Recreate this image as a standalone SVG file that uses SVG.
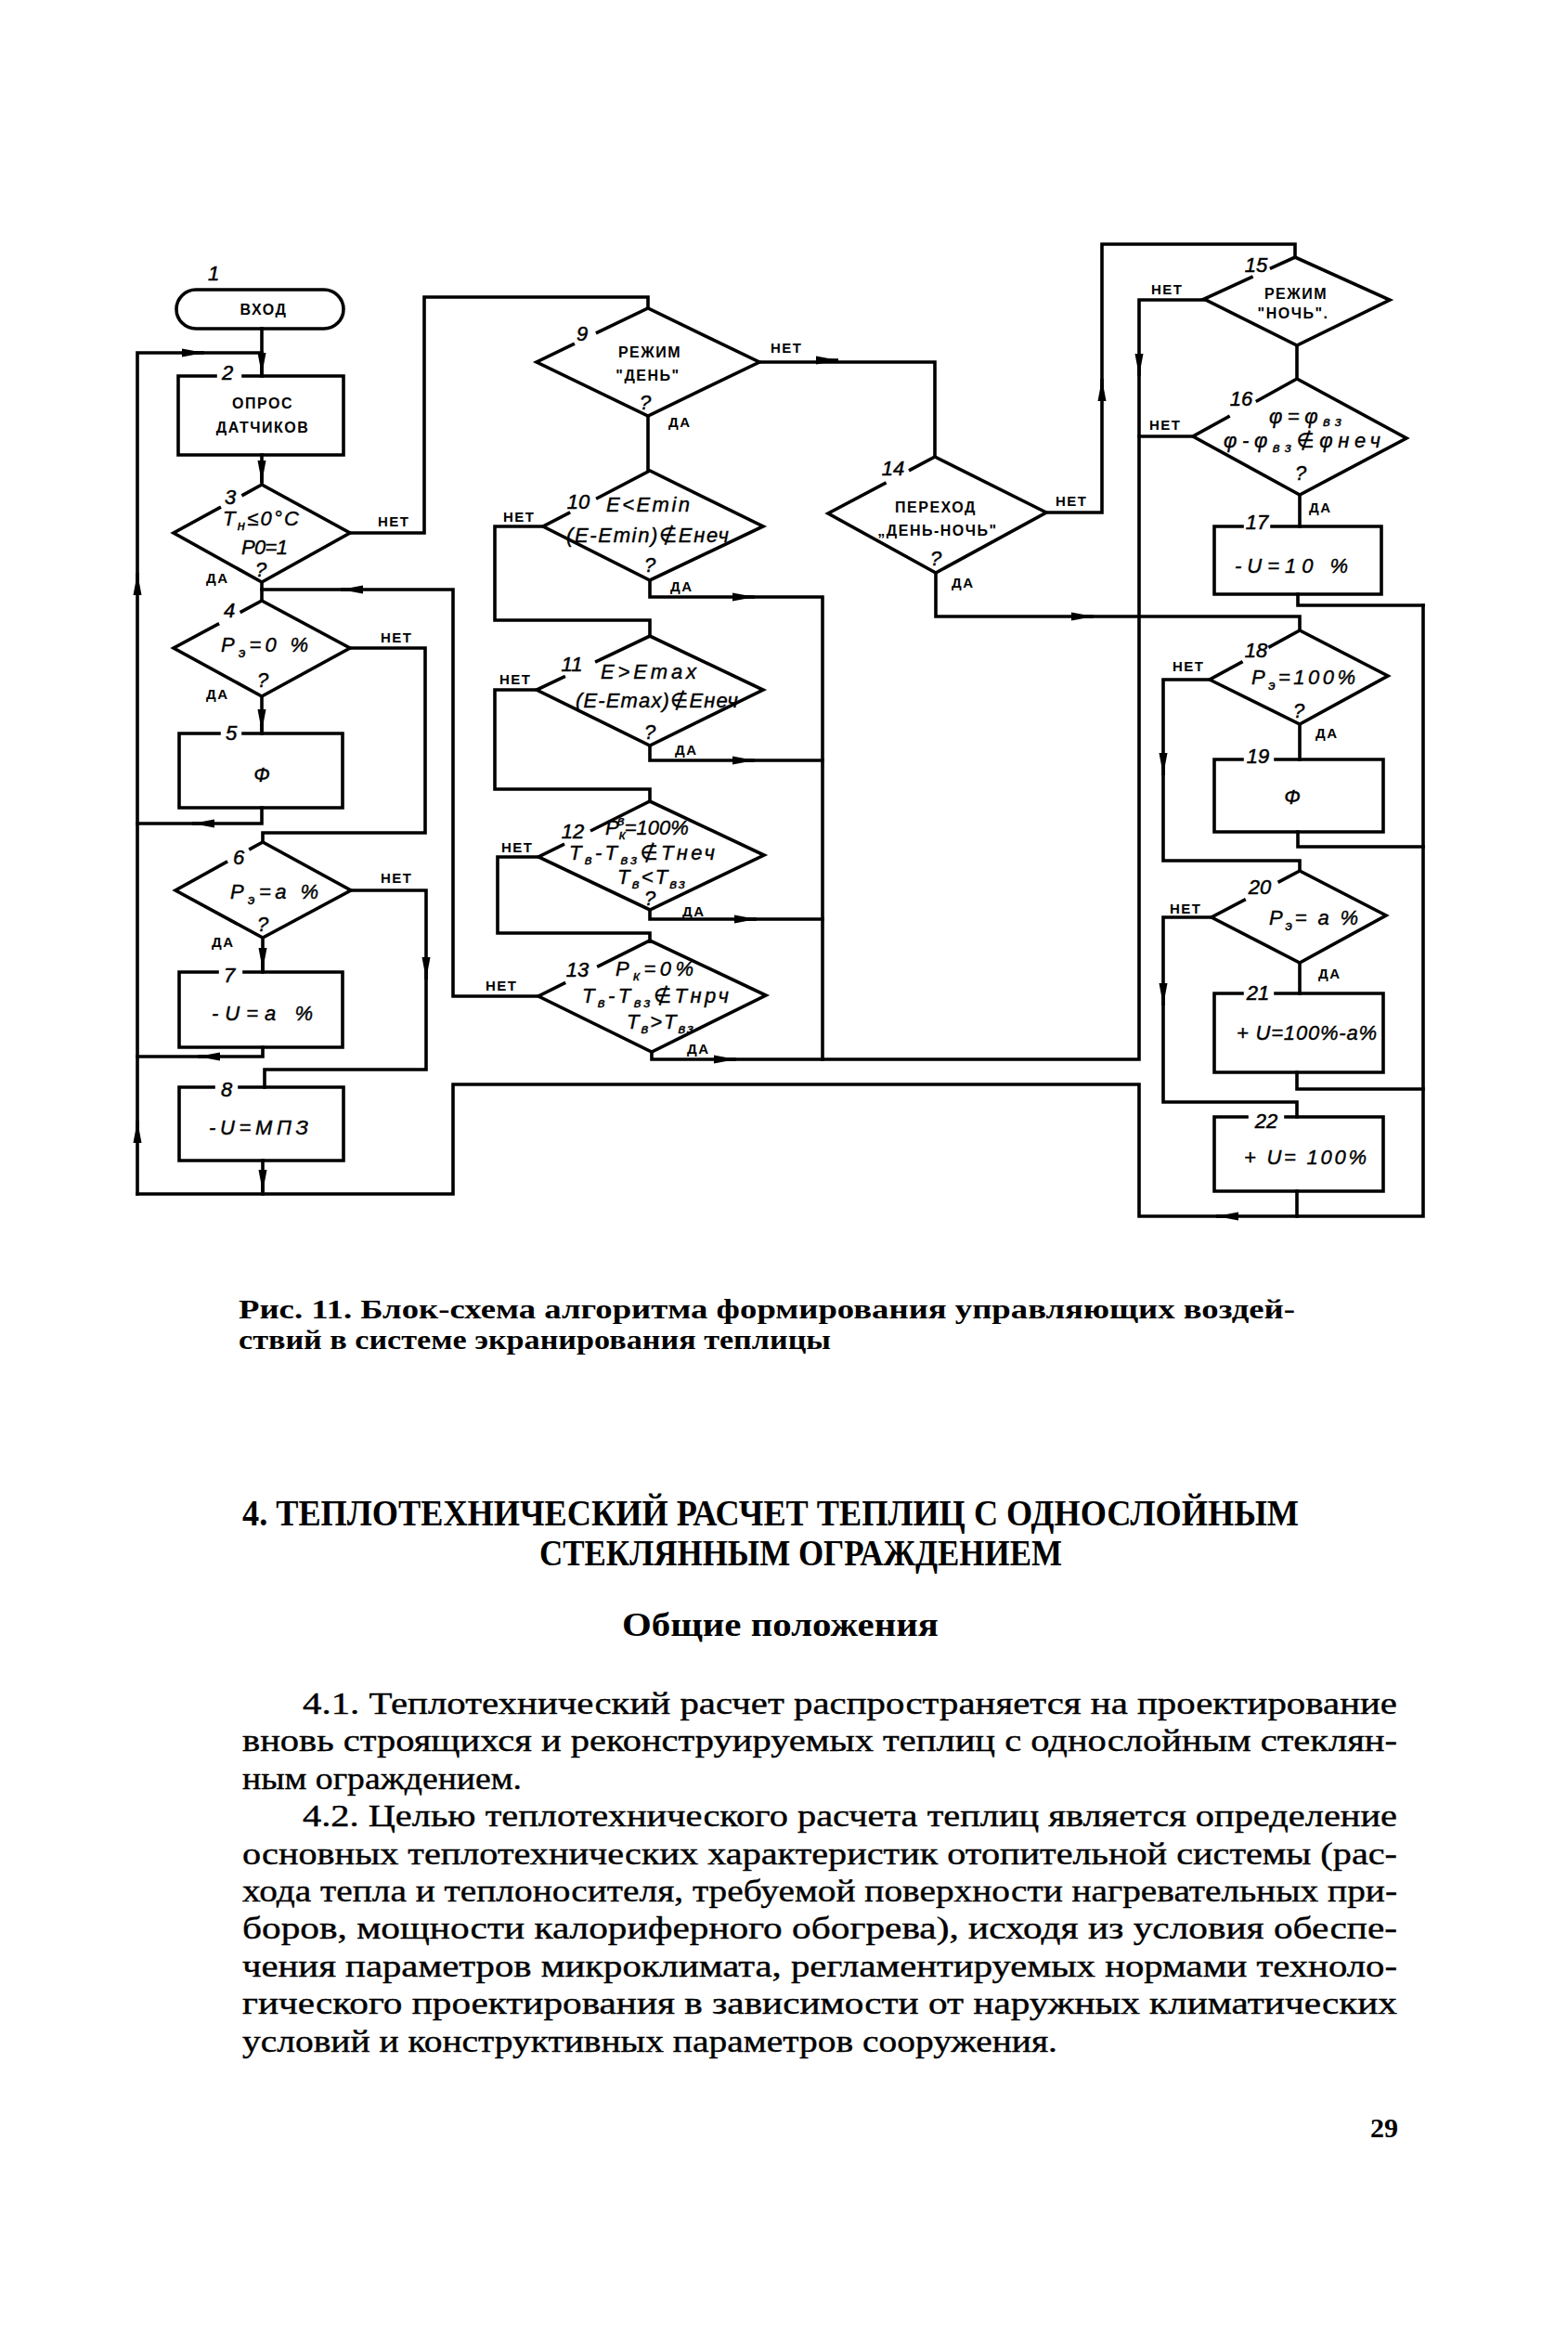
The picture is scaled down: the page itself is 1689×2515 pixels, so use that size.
<svg xmlns="http://www.w3.org/2000/svg" width="1689" height="2515" viewBox="0 0 1689 2515">
<defs>
<style>
.ln{fill:none;stroke:#000;stroke-width:3.6;stroke-linecap:square;stroke-linejoin:miter}
.sh{fill:none;stroke:#000;stroke-width:3.6;stroke-linecap:square;stroke-linejoin:miter}
.ar{fill:none;stroke:#000;stroke-width:3.6;marker-end:url(#ah)}
.num{font-family:"Liberation Sans","DejaVu Sans",sans-serif;font-style:italic;font-size:22px;text-anchor:middle;stroke:#000;stroke-width:0.5}
.f{font-family:"Liberation Sans","DejaVu Sans",sans-serif;font-style:italic;font-size:22px;stroke:#000;stroke-width:0.4}
.q{font-family:"Liberation Sans","DejaVu Sans",sans-serif;font-style:italic;font-size:22px;text-anchor:middle;stroke:#000;stroke-width:0.4}
.s{font-size:15px}
.b{font-family:"Liberation Sans","DejaVu Sans",sans-serif;font-weight:bold;font-size:16px;letter-spacing:1.5px;text-anchor:middle}
.yn{font-family:"Liberation Sans","DejaVu Sans",sans-serif;font-weight:bold;font-size:15px;letter-spacing:1.5px}
.cap{font-family:"Liberation Serif","DejaVu Serif",serif;font-weight:bold;font-size:30px}
.h{font-family:"Liberation Serif","DejaVu Serif",serif;font-weight:bold;font-size:40px}
.sub{font-family:"Liberation Serif","DejaVu Serif",serif;font-weight:bold;font-size:36px}
.body{font-family:"Liberation Serif","DejaVu Serif",serif;font-size:34px;stroke:#000;stroke-width:0.4}
</style>
<marker id="ah" markerUnits="userSpaceOnUse" markerWidth="26" markerHeight="12" viewBox="0 0 26 12" refX="24" refY="6" orient="auto">
<path d="M0,1.5 L24,6 L0,10.5 z" fill="#000"/>
</marker>
</defs>
<rect width="1689" height="2515" fill="#fff"/>

<g id="connectors">
<path class="ln" d="M282,354 V405"/>
<path class="ln" d="M148,1286 V380 H282"/>
<path class="ln" d="M282,490 V522"/>
<path class="ln" d="M282,627 V647"/>
<path class="ln" d="M580,1073 H488 V635 H282"/>
<path class="ln" d="M377,574 H457 V320 H698 V332"/>
<path class="ln" d="M377,698 H458 V897 H283 V907"/>
<path class="ln" d="M282,750 V790"/>
<path class="ln" d="M282,870 V887 H148"/>
<path class="ln" d="M283,1010 V1047"/>
<path class="ln" d="M378,959 H459 V1152 H285 V1171"/>
<path class="ln" d="M283,1128 V1138 H148"/>
<path class="ln" d="M283,1250 V1286"/>
<path class="ln" d="M1533,652 V1310 H1227 V1168 H488 V1286 H148"/>
<path class="ln" d="M698,448 V507"/>
<path class="ln" d="M818,390 H1007 V492"/>
<path class="ln" d="M585,567 H533 V668 H700 V685"/>
<path class="ln" d="M700,625 V643 H886 V1141"/>
<path class="ln" d="M578,743 H533 V850 H700 V863"/>
<path class="ln" d="M700,803 V819 H886"/>
<path class="ln" d="M580,923 H536 V1005 H700 V1013"/>
<path class="ln" d="M700,980 V990 H886"/>
<path class="ln" d="M702,1133 V1141 H1227 V323 H1297"/>
<path class="ln" d="M1285,470 H1227"/>
<path class="ln" d="M1397,372 V408"/>
<path class="ln" d="M1400,533 V567"/>
<path class="ln" d="M1398,640 V652 H1533"/>
<path class="ln" d="M1127,552 H1187 V263 H1395 V277"/>
<path class="ln" d="M1008,617 V664 H1400 V679"/>
<path class="ln" d="M1400,780 V818"/>
<path class="ln" d="M1303,732 H1253 V927 H1400 V938"/>
<path class="ln" d="M1398,896 V912 H1533"/>
<path class="ln" d="M1400,1037 V1070"/>
<path class="ln" d="M1305,988 H1253 V1187 H1397 V1203"/>
<path class="ln" d="M1397,1155 V1173 H1533"/>
<path class="ln" d="M1397,1283 V1310"/>

<path class="ar" d="M282,390 V404"/>
<path class="ar" d="M200,380 H220"/>
<path class="ar" d="M148,640 V617"/>
<path class="ar" d="M148,1230 V1207"/>
<path class="ar" d="M282,505 V520"/>
<path class="ar" d="M390,635 H367"/>
<path class="ar" d="M282,770 V788"/>
<path class="ar" d="M230,887 H207"/>
<path class="ar" d="M283,1030 V1045"/>
<path class="ar" d="M459,1035 V1055"/>
<path class="ar" d="M236,1138 H213"/>
<path class="ar" d="M283,1265 V1284"/>
<path class="ar" d="M880,388 H903"/>
<path class="ar" d="M790,643 H813"/>
<path class="ar" d="M790,819 H813"/>
<path class="ar" d="M792,990 H815"/>
<path class="ar" d="M770,1141 H793"/>
<path class="ar" d="M1187,430 V408"/>
<path class="ar" d="M1227,385 V405"/>
<path class="ar" d="M1155,664 H1178"/>
<path class="ar" d="M1253,812 V835"/>
<path class="ar" d="M1253,1060 V1083"/>
<path class="ar" d="M1333,1310 H1310"/>

<text class="yn" x="407" y="567">НЕТ</text>
<text class="yn" x="222" y="628">ДА</text>
<text class="yn" x="410" y="692">НЕТ</text>
<text class="yn" x="222" y="753">ДА</text>
<text class="yn" x="410" y="951">НЕТ</text>
<text class="yn" x="228" y="1020">ДА</text>
<text class="yn" x="830" y="380">НЕТ</text>
<text class="yn" x="720" y="460">ДА</text>
<text class="yn" x="542" y="562">НЕТ</text>
<text class="yn" x="722" y="637">ДА</text>
<text class="yn" x="538" y="737">НЕТ</text>
<text class="yn" x="727" y="813">ДА</text>
<text class="yn" x="540" y="918">НЕТ</text>
<text class="yn" x="735" y="987">ДА</text>
<text class="yn" x="523" y="1067">НЕТ</text>
<text class="yn" x="740" y="1135">ДА</text>
<text class="yn" x="1137" y="545">НЕТ</text>
<text class="yn" x="1025" y="633">ДА</text>
<text class="yn" x="1240" y="317">НЕТ</text>
<text class="yn" x="1238" y="463">НЕТ</text>
<text class="yn" x="1410" y="552">ДА</text>
<text class="yn" x="1263" y="723">НЕТ</text>
<text class="yn" x="1417" y="795">ДА</text>
<text class="yn" x="1260" y="984">НЕТ</text>
<text class="yn" x="1420" y="1054">ДА</text>
</g>

<g id="n1">
<rect class="sh" x="190" y="312" width="180" height="42" rx="21"/>
<text class="num" x="230" y="302">1</text>
<text class="b" x="284" y="339">ВХОД</text>
</g>

<g id="n2">
<path class="sh" d="M262,405 H370 V490 H192 V405 H232"/>
<text class="num" x="245" y="409">2</text>
<text class="b" x="283" y="440">ОПРОС</text>
<text class="b" x="283" y="466">ДАТЧИКОВ</text>
</g>

<g id="n3">
<path class="sh" d="M236.4,547 L187,574 L282,627 L377,574 L282,522 L262,533"/>
<text class="num" x="248" y="543">3</text>
<text class="f" x="240" y="566" textLength="82">T<tspan class="s" dy="5">н</tspan><tspan dy="-5">≤0°C</tspan></text>
<text class="f" x="260" y="597" textLength="50">P0=1</text>
<text class="q" x="281" y="621">?</text>
</g>

<g id="n4">
<path class="sh" d="M234.5,672.5 L187,698 L282,750 L377,698 L282,647 L260.2,658.7"/>
<text class="num" x="247" y="665">4</text>
<text class="f" x="238" y="702" textLength="94">P<tspan class="s" dy="6">э</tspan><tspan dy="-6">=0 %</tspan></text>
<text class="q" x="283" y="740">?</text>
</g>

<g id="n5">
<path class="sh" d="M262,790 H369 V870 H193 V790 H236"/>
<text class="num" x="249" y="797">5</text>
<text class="q" x="282" y="842" font-size="26">Ф</text>
</g>

<g id="n6">
<path class="sh" d="M243.5,928.8 L189,959 L283,1010 L378,959 L283,907 L269.8,914.3"/>
<text class="num" x="257" y="931">6</text>
<text class="f" x="248" y="968" textLength="95">P<tspan class="s" dy="6">э</tspan><tspan dy="-6">=a %</tspan></text>
<text class="q" x="283" y="1003">?</text>
</g>

<g id="n7">
<path class="sh" d="M263,1047 H369 V1128 H193 V1047 H234"/>
<text class="num" x="247" y="1058">7</text>
<text class="f" x="228" y="1099" textLength="109">-U=a %</text>
</g>

<g id="n8">
<path class="sh" d="M258,1171 H370 V1250 H193 V1171 H230"/>
<text class="num" x="244" y="1181">8</text>
<text class="f" x="225" y="1222" textLength="107">-U=МПЗ</text>
</g>

<g id="n9">
<path class="sh" d="M617.3,370.9 L578,390 L698,448 L818,390 L698,332 L643.5,358.1"/>
<text class="num" x="627" y="367">9</text>
<text class="b" x="700" y="385">РЕЖИМ</text>
<text class="b" x="698" y="410">"ДЕНЬ"</text>
<text class="q" x="695" y="441">?</text>
</g>

<g id="n10">
<path class="sh" d="M612.6,552.6 L585,567 L700,625 L822,567 L700,507 L643.7,536.4"/>
<text class="num" x="623" y="548">10</text>
<text class="f" x="653" y="551" textLength="90">E&lt;Emin</text>
<text class="f" x="610" y="584" textLength="175">(E-Emin)∉Eнеч</text>
<text class="q" x="700" y="616">?</text>
</g>

<g id="n11">
<path class="sh" d="M607.3,729.1 L578,743 L700,803 L822,743 L700,685 L642.7,712.3"/>
<text class="num" x="616" y="723">11</text>
<text class="f" x="647" y="731" textLength="103">E&gt;Emax</text>
<text class="f" x="620" y="762" textLength="175">(E-Emax)∉Eнеч</text>
<text class="q" x="700" y="796">?</text>
</g>

<g id="n12">
<path class="sh" d="M606.4,909.8 L580,923 L700,980 L823,921 L700,863 L637.6,894.2"/>
<text class="num" x="617" y="903">12</text>
<text class="f" x="652" y="899">P<tspan class="s" dy="5">к</tspan><tspan class="s" dx="-9" dy="-15">в</tspan><tspan dy="10">=100%</tspan></text>
<text class="f" x="613" y="926" textLength="157">T<tspan class="s" dy="5">в</tspan><tspan dy="-5">-T</tspan><tspan class="s" dy="5">вз</tspan><tspan dy="-5">∉Tнеч</tspan></text>
<text class="f" x="665" y="952" textLength="73">T<tspan class="s" dy="5">в</tspan><tspan dy="-5">&lt;T</tspan><tspan class="s" dy="5">вз</tspan></text>
<text class="q" x="700" y="975">?</text>
</g>

<g id="n13">
<path class="sh" d="M607.6,1059.2 L580,1073 L702,1133 L825,1072 L700,1013 L644.8,1040.6"/>
<text class="num" x="622" y="1052">13</text>
<text class="f" x="663" y="1051" textLength="84">P<tspan class="s" dy="5">к</tspan><tspan dy="-5">=0%</tspan></text>
<text class="f" x="627" y="1080" textLength="158">T<tspan class="s" dy="5">в</tspan><tspan dy="-5">-T</tspan><tspan class="s" dy="5">вз</tspan><tspan dy="-5">∉Tнрч</tspan></text>
<text class="f" x="675" y="1108" textLength="72">T<tspan class="s" dy="5">в</tspan><tspan dy="-5">&gt;T</tspan><tspan class="s" dy="5">вз</tspan></text>
</g>

<g id="n14">
<path class="sh" d="M953,520.7 L892,553 L1008,617 L1127,552 L1007,492 L980.6,506"/>
<text class="num" x="962" y="512">14</text>
<text class="b" x="1008" y="552" font-weight="normal" letter-spacing="2">ПЕРЕХОД</text>
<text class="b" x="1010" y="577" letter-spacing="1">„ДЕНЬ-НОЧЬ"</text>
<text class="q" x="1008" y="609">?</text>
</g>

<g id="n15">
<path class="sh" d="M1348,298.6 L1297,322 L1397,372 L1497,323 L1395,277 L1369.5,288.7"/>
<text class="num" x="1353" y="293">15</text>
<text class="b" x="1396" y="322">РЕЖИМ</text>
<text class="b" x="1393" y="343">"НОЧЬ".</text>
</g>

<g id="n16">
<path class="sh" d="M1323.1,448.9 L1285,470 L1400,533 L1515,472 L1397,408 L1354.4,431.6"/>
<text class="num" x="1337" y="437">16</text>
<text class="f" x="1367" y="456" textLength="78">φ=φ<tspan class="s" dy="3">вз</tspan></text>
<text class="f" x="1318" y="482" textLength="169">φ-φ<tspan class="s" dy="5">вз</tspan><tspan dy="-5">∉φнеч</tspan></text>
<text class="q" x="1401" y="517">?</text>
</g>

<g id="n17">
<path class="sh" d="M1370,567 H1488 V640 H1308 V567 H1338"/>
<text class="num" x="1354" y="570">17</text>
<text class="f" x="1330" y="617" textLength="122">-U=10 %</text>
</g>

<g id="n18">
<path class="sh" d="M1337,713.5 L1303,732 L1400,780 L1495,728 L1400,679 L1368,696.5"/>
<text class="num" x="1353" y="708">18</text>
<text class="f" x="1348" y="737" textLength="112">P<tspan class="s" dy="6">э</tspan><tspan dy="-6">=100%</tspan></text>
<text class="q" x="1399" y="773">?</text>
</g>

<g id="n19">
<path class="sh" d="M1374,818 H1490 V896 H1308 V818 H1338"/>
<text class="num" x="1355" y="822">19</text>
<text class="q" x="1392" y="866" font-size="26">Ф</text>
</g>

<g id="n20">
<path class="sh" d="M1340.2,969.5 L1305,988 L1400,1037 L1493,986 L1400,938 L1378.2,949.5"/>
<text class="num" x="1357" y="963">20</text>
<text class="f" x="1367" y="996" textLength="96">P<tspan class="s" dy="6">э</tspan><tspan dy="-6">= a %</tspan></text>
</g>

<g id="n21">
<path class="sh" d="M1374,1070 H1490 V1155 H1308 V1070 H1338"/>
<text class="num" x="1355" y="1077">21</text>
<text class="f" x="1332" y="1120" textLength="151">+ U=100%-a%</text>
</g>

<g id="n22">
<path class="sh" d="M1385,1203 H1490 V1283 H1308 V1203 H1343"/>
<text class="num" x="1364" y="1215">22</text>
<text class="f" x="1340" y="1254" textLength="132">+ U= 100%</text>
</g>

<g id="page-text">
<text class="cap" x="257" y="1420" textLength="1138" lengthAdjust="spacingAndGlyphs">Рис. 11. Блок-схема алгоритма формирования управляющих воздей-</text>
<text class="cap" x="257" y="1453" textLength="638" lengthAdjust="spacingAndGlyphs">ствий в системе экранирования теплицы</text>
<text class="h" x="261" y="1643" textLength="1138" lengthAdjust="spacingAndGlyphs">4. ТЕПЛОТЕХНИЧЕСКИЙ РАСЧЕТ ТЕПЛИЦ С ОДНОСЛОЙНЫМ</text>
<text class="h" x="581" y="1686" textLength="563" lengthAdjust="spacingAndGlyphs">СТЕКЛЯННЫМ ОГРАЖДЕНИЕМ</text>
<text class="sub" x="670" y="1762" textLength="341" lengthAdjust="spacingAndGlyphs">Общие положения</text>
<text class="body" x="326" y="1846" textLength="1179" lengthAdjust="spacingAndGlyphs">4.1. Теплотехнический расчет распространяется на проектирование</text>
<text class="body" x="261" y="1886" textLength="1244" lengthAdjust="spacingAndGlyphs">вновь строящихся и реконструируемых теплиц с однослойным стеклян-</text>
<text class="body" x="261" y="1927" textLength="301" lengthAdjust="spacingAndGlyphs">ным ограждением.</text>
<text class="body" x="326" y="1967" textLength="1179" lengthAdjust="spacingAndGlyphs">4.2. Целью теплотехнического расчета теплиц является определение</text>
<text class="body" x="261" y="2008" textLength="1244" lengthAdjust="spacingAndGlyphs">основных теплотехнических характеристик отопительной системы (рас-</text>
<text class="body" x="261" y="2048" textLength="1244" lengthAdjust="spacingAndGlyphs">хода тепла и теплоносителя, требуемой поверхности нагревательных при-</text>
<text class="body" x="261" y="2088" textLength="1244" lengthAdjust="spacingAndGlyphs">боров, мощности калориферного обогрева), исходя из условия обеспе-</text>
<text class="body" x="261" y="2129" textLength="1244" lengthAdjust="spacingAndGlyphs">чения параметров микроклимата, регламентируемых нормами техноло-</text>
<text class="body" x="261" y="2169" textLength="1244" lengthAdjust="spacingAndGlyphs">гического проектирования в зависимости от наружных климатических</text>
<text class="body" x="261" y="2210" textLength="878" lengthAdjust="spacingAndGlyphs">условий и конструктивных параметров сооружения.</text>
<text class="cap" x="1476" y="2302" font-size="32">29</text>
</g>
</svg>
